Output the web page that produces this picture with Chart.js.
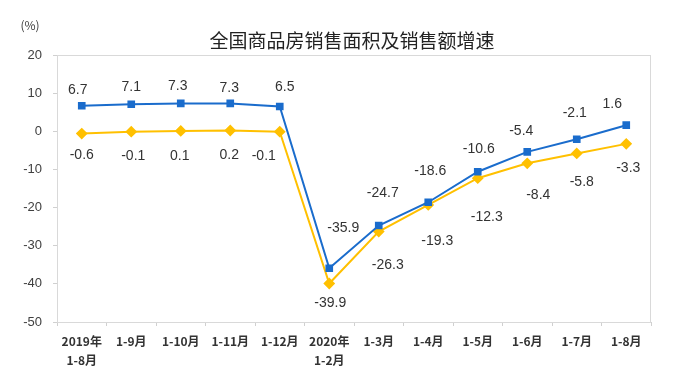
<!DOCTYPE html>
<html>
<head>
<meta charset="utf-8">
<script src="https://cdn.jsdelivr.net/npm/chart.js@4/dist/chart.umd.min.js"></script>
<style>
  html, body { margin: 0; padding: 0; background: #fff; }
  #wrap { width: 693px; height: 385px; }
</style>
</head>
<body>
<div id="wrap"><canvas id="chart"></canvas></div>
<script>
// data
const categories = [
  ["2019年", "1-8月"], "1-9月", "1-10月", "1-11月", "1-12月",
  ["2020年", "1-2月"], "1-3月", "1-4月", "1-5月", "1-6月", "1-7月", "1-8月"
];
const salesAmountGrowth = [6.7, 7.1, 7.3, 7.3, 6.5, -35.9, -24.7, -18.6, -10.6, -5.4, -2.1, 1.6];
const salesAreaGrowth = [-0.6, -0.1, 0.1, 0.2, -0.1, -39.9, -26.3, -19.3, -12.3, -8.4, -5.8, -3.3];
const yTicks = [-50, -40, -30, -20, -10, 0, 10, 20];

const titleText = "全国商品房销售面积及销售额增速";
const unitText = "(%)";

// label placement relative to each point (dx, dy)
const blueLabelOffsets = [[-4, -16], [0, -17], [-3, -17], [-1, -15], [5, -19], [14, -40],
  [4, -32], [2, -31], [1, -23], [-6, -21], [-2, -26], [-14, -21]];
const yellowLabelOffsets = [[0, 22], [2, 24], [-1, 25], [-1, 25], [-16, 24], [1, 20],
  [9, 34], [9, 36], [9, 39], [11, 32], [5, 29], [2, 24]];

const BLUE = "#1a6ccc";
const YELLOW = "#ffc000";

const decorPlugin = {
  id: "decor",
  beforeDatasetsDraw(chart) {
    const { ctx, chartArea } = chart;
    ctx.save();
    ctx.strokeStyle = "#d9d9d9";
    ctx.lineWidth = 1;
    ctx.strokeRect(chartArea.left + 0.5, chartArea.top + 0.5,
      chartArea.right - chartArea.left - 1, chartArea.bottom - chartArea.top);
    ctx.restore();
  },
  afterDraw(chart) {
    const { ctx } = chart;
    ctx.save();
    ctx.fillStyle = "#222";
    ctx.font = "19px 'Noto Sans CJK SC'";
    ctx.textAlign = "center";
    ctx.textBaseline = "middle";
    ctx.fillText(titleText, 352, 41);
    ctx.fillStyle = "#404040";
    ctx.font = "12px 'Noto Sans CJK SC'";
    ctx.fillText(unitText, 30, 25);
    ctx.restore();
  },
  afterDatasetsDraw(chart) {
    const { ctx } = chart;
    ctx.save();
    ctx.font = "14px 'Liberation Sans', Arial";
    ctx.fillStyle = "#333";
    ctx.textAlign = "center";
    ctx.textBaseline = "middle";
    chart.data.datasets.forEach((ds, di) => {
      const meta = chart.getDatasetMeta(di);
      const offs = di === 0 ? blueLabelOffsets : yellowLabelOffsets;
      meta.data.forEach((pt, i) => {
        ctx.fillText(ds.data[i].toFixed(1), pt.x + offs[i][0], pt.y + offs[i][1]);
      });
    });
    ctx.restore();
  }
};

new Chart(document.getElementById("chart"), {
  type: "line",
  data: {
    labels: categories,
    datasets: [
      {
        label: "销售额",
        data: salesAmountGrowth,
        borderColor: BLUE,
        backgroundColor: BLUE,
        borderWidth: 2,
        pointStyle: "rect",
        pointRadius: 4,
        pointHoverRadius: 4,
        tension: 0
      },
      {
        label: "销售面积",
        data: salesAreaGrowth,
        borderColor: YELLOW,
        backgroundColor: YELLOW,
        borderWidth: 2,
        pointStyle: "rectRot",
        pointRadius: 4.5,
        pointHoverRadius: 4.5,
        tension: 0
      }
    ]
  },
  options: {
    responsive: true,
    maintainAspectRatio: false,
    animation: false,
    layout: { padding: { top: 55, right: 42, left: 0, bottom: 0 } },
    plugins: {
      legend: { display: false },
      title: { display: false },
      tooltip: { enabled: false }
    },
    scales: {
      x: {
        offset: true,
        grid: {
          display: true,
          offset: true,
          drawOnChartArea: false,
          drawTicks: true,
          tickLength: 4,
          color: "#d0d0d0"
        },
        border: { color: "#d0d0d0" },
        ticks: {
          color: "#333",
          font: { family: "'Noto Sans CJK SC'", size: 12, weight: "bold", lineHeight: 1.6 },
          padding: 6,
          maxRotation: 0,
          autoSkip: false
        },
        afterFit(scale) { scale.height = 63; }
      },
      y: {
        min: yTicks[0],
        max: yTicks[yTicks.length - 1],
        afterBuildTicks(scale) { scale.ticks = yTicks.map(v => ({ value: v })); },
        grid: {
          display: true,
          drawOnChartArea: false,
          drawTicks: true,
          tickLength: 4,
          color: "#d0d0d0"
        },
        border: { color: "#d0d0d0" },
        ticks: {
          color: "#404040",
          font: { family: "'Liberation Sans', Arial", size: 13 },
          padding: 11
        },
        afterFit(scale) { scale.width = 57; }
      }
    }
  },
  plugins: [decorPlugin]
});
</script>
</body>
</html>
